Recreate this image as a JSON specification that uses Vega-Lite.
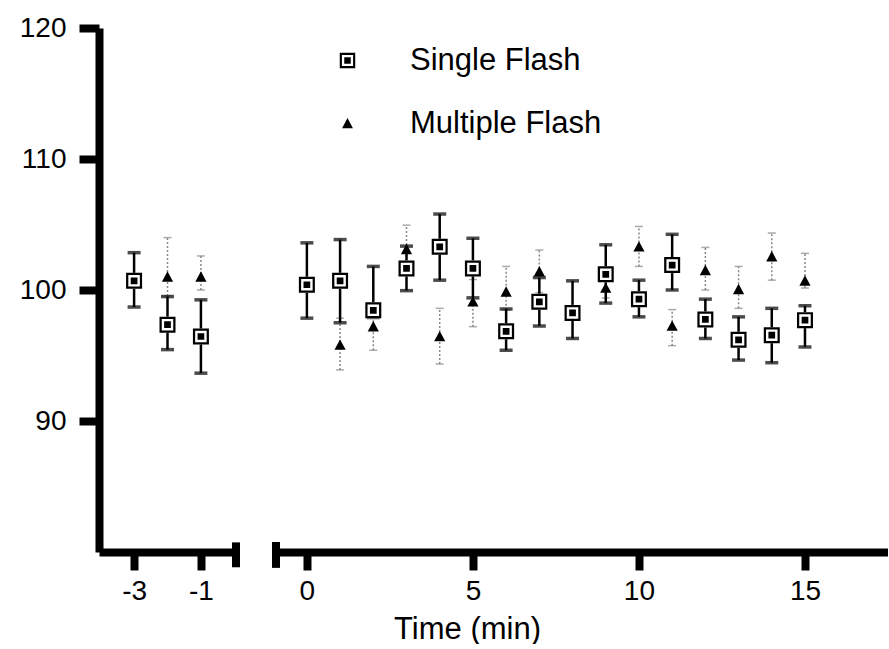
{
  "$schema": "https://vega.github.io/schema/vega-lite/v6.json",
  "padding": {"left": 19, "top": 14, "right": 0, "bottom": 0},
  "background": "white",
  "config": {
    "view": {"stroke": null},
    "font": "Liberation Sans",
    "axis": {"domainColor": "black", "domainWidth": 8, "tickColor": "black", "tickWidth": 8, "labelFont": "Liberation Sans", "labelFontSize": 28, "labelColor": "black", "grid": false, "labelFlush": false, "labelOverlap": false, "titleFont": "Liberation Sans", "titleFontSize": 31, "titleColor": "black", "titleFontWeight": "normal"},
    "axisX": {"tickSize": 18, "labelPadding": 7},
    "axisY": {"tickSize": 20, "labelPadding": 13}
  },
  "data": {"values": [
    {"t": -3, "series": "Single Flash", "mean": 100.7, "lo": 98.7, "hi": 102.85},
    {"t": -2, "series": "Single Flash", "mean": 97.35, "lo": 95.45, "hi": 99.5},
    {"t": -1, "series": "Single Flash", "mean": 96.45, "lo": 93.65, "hi": 99.25},
    {"t": 0, "series": "Single Flash", "mean": 100.4, "lo": 97.85, "hi": 103.6},
    {"t": 1, "series": "Single Flash", "mean": 100.7, "lo": 97.5, "hi": 103.85},
    {"t": 2, "series": "Single Flash", "mean": 98.45, "lo": 97.9, "hi": 101.8},
    {"t": 3, "series": "Single Flash", "mean": 101.65, "lo": 99.95, "hi": 103.35},
    {"t": 4, "series": "Single Flash", "mean": 103.3, "lo": 100.75, "hi": 105.8},
    {"t": 5, "series": "Single Flash", "mean": 101.65, "lo": 99.4, "hi": 103.95},
    {"t": 6, "series": "Single Flash", "mean": 96.85, "lo": 95.4, "hi": 98.55},
    {"t": 7, "series": "Single Flash", "mean": 99.1, "lo": 97.25, "hi": 100.95},
    {"t": 8, "series": "Single Flash", "mean": 98.25, "lo": 96.3, "hi": 100.7},
    {"t": 9, "series": "Single Flash", "mean": 101.2, "lo": 99.0, "hi": 103.45},
    {"t": 10, "series": "Single Flash", "mean": 99.3, "lo": 97.95, "hi": 100.75},
    {"t": 11, "series": "Single Flash", "mean": 101.9, "lo": 100.0, "hi": 104.25},
    {"t": 12, "series": "Single Flash", "mean": 97.75, "lo": 96.3, "hi": 99.3},
    {"t": 13, "series": "Single Flash", "mean": 96.2, "lo": 94.65, "hi": 97.95},
    {"t": 14, "series": "Single Flash", "mean": 96.55, "lo": 94.45, "hi": 98.6},
    {"t": 15, "series": "Single Flash", "mean": 97.7, "lo": 95.65, "hi": 98.8},
    {"t": -2, "series": "Multiple Flash", "mean": 101.0, "lo": 99.55, "hi": 104.0},
    {"t": -1, "series": "Multiple Flash", "mean": 101.0, "lo": 100.0, "hi": 102.6},
    {"t": 1, "series": "Multiple Flash", "mean": 95.8, "lo": 93.9, "hi": 97.85},
    {"t": 2, "series": "Multiple Flash", "mean": 97.2, "lo": 95.4, "hi": 98.45},
    {"t": 3, "series": "Multiple Flash", "mean": 103.1, "lo": 101.9, "hi": 104.95},
    {"t": 4, "series": "Multiple Flash", "mean": 96.45, "lo": 94.35, "hi": 98.6},
    {"t": 5, "series": "Multiple Flash", "mean": 99.1, "lo": 97.2, "hi": 100.8},
    {"t": 6, "series": "Multiple Flash", "mean": 99.85, "lo": 98.5, "hi": 101.8},
    {"t": 7, "series": "Multiple Flash", "mean": 101.4, "lo": 99.8, "hi": 103.05},
    {"t": 9, "series": "Multiple Flash", "mean": 100.15, "lo": 99.4, "hi": 100.9},
    {"t": 10, "series": "Multiple Flash", "mean": 103.3, "lo": 101.8, "hi": 104.85},
    {"t": 11, "series": "Multiple Flash", "mean": 97.25, "lo": 95.75, "hi": 98.5},
    {"t": 12, "series": "Multiple Flash", "mean": 101.5, "lo": 100.0, "hi": 103.25},
    {"t": 13, "series": "Multiple Flash", "mean": 100.05, "lo": 98.6, "hi": 101.8},
    {"t": 14, "series": "Multiple Flash", "mean": 102.55, "lo": 100.75, "hi": 104.35},
    {"t": 15, "series": "Multiple Flash", "mean": 100.7, "lo": 100.15, "hi": 102.8}
  ]},
  "spacing": 32,
  "resolve": {"scale": {"x": "independent", "shape": "independent"}, "legend": {"shape": "independent"}},
  "hconcat": [
    {
      "width": 137, "height": 524,
      "transform": [{"filter": "datum.t < 0"}],
      "encoding": {
        "x": {"field": "t", "type": "quantitative", "scale": {"domain": [-4.05, 0.05], "nice": false, "zero": false}, "axis": {"values": [-3, -1], "title": null, "labelExpr": "datum.value + ''"}}
      },
      "layer": [
        {"transform": [{"filter": "datum.series === 'Multiple Flash'"}], "mark": {"type": "rule", "color": "#888", "strokeDash": [2, 2], "strokeWidth": 1.5},
         "encoding": {"y": {"field": "lo", "type": "quantitative", "scale": {"domain": [80, 120], "nice": false, "zero": false}, "axis": {"values": [90, 100, 110, 120], "title": null}}, "y2": {"field": "hi"}}},
        {"transform": [{"filter": "datum.series === 'Multiple Flash'"}], "mark": {"type": "tick", "orient": "horizontal", "color": "#888", "size": 8, "thickness": 1.5},
         "encoding": {"y": {"field": "lo", "type": "quantitative", "scale": {"domain": [80, 120], "nice": false, "zero": false}, "axis": {"values": [90, 100, 110, 120], "title": null}}}},
        {"transform": [{"filter": "datum.series === 'Multiple Flash'"}], "mark": {"type": "tick", "orient": "horizontal", "color": "#888", "size": 8, "thickness": 1.5},
         "encoding": {"y": {"field": "hi", "type": "quantitative", "scale": {"domain": [80, 120], "nice": false, "zero": false}, "axis": {"values": [90, 100, 110, 120], "title": null}}}},
        {"transform": [{"filter": "datum.series === 'Single Flash'"}], "mark": {"type": "rule", "color": "black", "strokeWidth": 2.5},
         "encoding": {"y": {"field": "lo", "type": "quantitative", "scale": {"domain": [80, 120], "nice": false, "zero": false}, "axis": {"values": [90, 100, 110, 120], "title": null}}, "y2": {"field": "hi"}}},
        {"transform": [{"filter": "datum.series === 'Single Flash'"}], "mark": {"type": "tick", "orient": "horizontal", "color": "black", "size": 13, "thickness": 3.5},
         "encoding": {"y": {"field": "lo", "type": "quantitative", "scale": {"domain": [80, 120], "nice": false, "zero": false}, "axis": {"values": [90, 100, 110, 120], "title": null}}}},
        {"transform": [{"filter": "datum.series === 'Single Flash'"}], "mark": {"type": "tick", "orient": "horizontal", "color": "black", "size": 13, "thickness": 3.5},
         "encoding": {"y": {"field": "hi", "type": "quantitative", "scale": {"domain": [80, 120], "nice": false, "zero": false}, "axis": {"values": [90, 100, 110, 120], "title": null}}}},
        {"transform": [{"filter": "datum.series === 'Single Flash'"}], "mark": {"type": "point", "shape": "square", "size": 256, "filled": true, "color": "white", "opacity": 1},
         "encoding": {"y": {"field": "mean", "type": "quantitative", "scale": {"domain": [80, 120], "nice": false, "zero": false}, "axis": {"values": [90, 100, 110, 120], "title": null}}}},
        {"mark": {"type": "point", "size": 256, "filled": true, "color": "black", "opacity": 1},
         "encoding": {
           "y": {"field": "mean", "type": "quantitative", "scale": {"domain": [80, 120], "nice": false, "zero": false}, "axis": {"values": [90, 100, 110, 120], "title": null}},
           "shape": {"field": "series", "type": "nominal", "scale": {"domain": ["Single Flash", "Multiple Flash"], "range": ["M-1,-1H1V1H-1Z M-0.72,-0.72V0.72H0.72V-0.72Z M-0.42,-0.42H0.42V0.42H-0.42Z", "M0,-0.7L0.7,0.6L-0.7,0.6Z"]}, "legend": null}
         }},
        {"mark": {"type": "rule", "color": "black", "strokeWidth": 8},
         "encoding": {"x": {"datum": 0.05, "type": "quantitative"}, "y": {"datum": 80.7, "type": "quantitative", "axis": {"values": [90, 100, 110, 120], "title": null}}, "y2": {"datum": 78.85}}}
      ]
    },
    {
      "width": 612, "height": 524,
      "transform": [{"filter": "datum.t >= 0"}],
      "encoding": {
        "x": {"field": "t", "type": "quantitative", "scale": {"domain": [-0.93, 17.5], "nice": false, "zero": false}, "axis": {"values": [0, 5, 10, 15], "title": "Time (min)", "labelExpr": "datum.value + ''", "titleX": 191, "titleY": 86, "titleBaseline": "alphabetic", "titleAlign": "center"}}
      },
      "layer": [
        {"transform": [{"filter": "datum.series === 'Multiple Flash'"}], "mark": {"type": "rule", "color": "#888", "strokeDash": [2, 2], "strokeWidth": 1.5},
         "encoding": {"y": {"field": "lo", "type": "quantitative", "scale": {"domain": [80, 120], "nice": false, "zero": false}, "axis": null}, "y2": {"field": "hi"}}},
        {"transform": [{"filter": "datum.series === 'Multiple Flash'"}], "mark": {"type": "tick", "orient": "horizontal", "color": "#888", "size": 8, "thickness": 1.5},
         "encoding": {"y": {"field": "lo", "type": "quantitative", "scale": {"domain": [80, 120], "nice": false, "zero": false}, "axis": null}}},
        {"transform": [{"filter": "datum.series === 'Multiple Flash'"}], "mark": {"type": "tick", "orient": "horizontal", "color": "#888", "size": 8, "thickness": 1.5},
         "encoding": {"y": {"field": "hi", "type": "quantitative", "scale": {"domain": [80, 120], "nice": false, "zero": false}, "axis": null}}},
        {"transform": [{"filter": "datum.series === 'Single Flash'"}], "mark": {"type": "rule", "color": "black", "strokeWidth": 2.5},
         "encoding": {"y": {"field": "lo", "type": "quantitative", "scale": {"domain": [80, 120], "nice": false, "zero": false}, "axis": null}, "y2": {"field": "hi"}}},
        {"transform": [{"filter": "datum.series === 'Single Flash'"}], "mark": {"type": "tick", "orient": "horizontal", "color": "black", "size": 13, "thickness": 3.5},
         "encoding": {"y": {"field": "lo", "type": "quantitative", "scale": {"domain": [80, 120], "nice": false, "zero": false}, "axis": null}}},
        {"transform": [{"filter": "datum.series === 'Single Flash'"}], "mark": {"type": "tick", "orient": "horizontal", "color": "black", "size": 13, "thickness": 3.5},
         "encoding": {"y": {"field": "hi", "type": "quantitative", "scale": {"domain": [80, 120], "nice": false, "zero": false}, "axis": null}}},
        {"transform": [{"filter": "datum.series === 'Single Flash'"}], "mark": {"type": "point", "shape": "square", "size": 256, "filled": true, "color": "white", "opacity": 1},
         "encoding": {"y": {"field": "mean", "type": "quantitative", "scale": {"domain": [80, 120], "nice": false, "zero": false}, "axis": null}}},
        {"mark": {"type": "point", "size": 256, "filled": true, "color": "black", "opacity": 1},
         "encoding": {
           "y": {"field": "mean", "type": "quantitative", "scale": {"domain": [80, 120], "nice": false, "zero": false}, "axis": null},
           "shape": {"field": "series", "type": "nominal", "scale": {"domain": ["Single Flash", "Multiple Flash"], "range": ["M-1,-1H1V1H-1Z M-0.72,-0.72V0.72H0.72V-0.72Z M-0.42,-0.42H0.42V0.42H-0.42Z", "M0,-0.7L0.7,0.6L-0.7,0.6Z"]},
             "legend": {"orient": "none", "legendX": 56, "legendY": 17, "title": null, "labelFontSize": 31, "labelFont": "Liberation Sans", "labelColor": "black", "labelLimit": 500, "labelOffset": 47, "rowPadding": 31, "padding": 0, "symbolSize": 240, "symbolFillColor": "black", "symbolStrokeWidth": 0}}
         }},
        {"mark": {"type": "rule", "color": "black", "strokeWidth": 8},
         "encoding": {"x": {"datum": -0.93, "type": "quantitative"}, "y": {"datum": 80.7, "type": "quantitative", "axis": null}, "y2": {"datum": 78.85}}}
      ]
    }
  ]
}
